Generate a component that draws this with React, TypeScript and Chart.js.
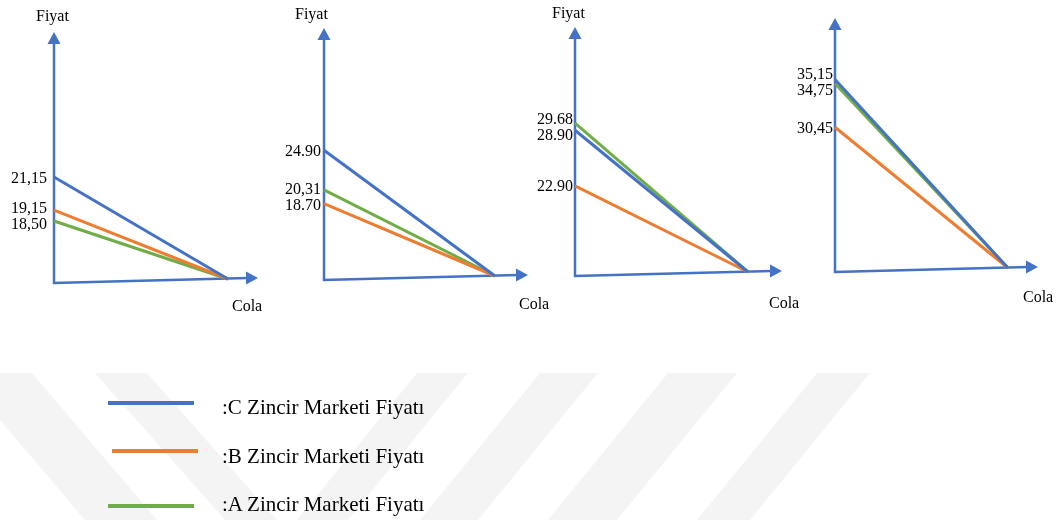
import React, { useEffect, useRef } from "react";
import { Chart, registerables } from "chart.js";

Chart.register(...registerables);

// ---------- data ----------
const seriesNames = [":C Zincir Marketi Fiyatı", ":B Zincir Marketi Fiyatı", ":A Zincir Marketi Fiyatı"];
const cPrices = [21.15, 24.9, 28.9, 35.15];
const bPrices = [19.15, 18.7, 22.9, 30.45];
const aPrices = [18.5, 20.31, 29.68, 34.75];
const cLabels = ["21,15", "24.90", "28.90", "35,15"];
const bLabels = ["19,15", "18.70", "22.90", "30,45"];
const aLabels = ["18,50", "20,31", "29.68", "34,75"];
const yAxisTitles = ["Fiyat", "Fiyat", "Fiyat", ""];
const xAxisTitles = ["Cola", "Cola", "Cola", "Cola"];

const seriesValues = [cPrices, bPrices, aPrices];
const seriesLabels = [cLabels, bLabels, aLabels];
const seriesColors = ["#4472C4", "#ED7D31", "#70AD47"];
const AXIS_COLOR = "#4472C4";
const FONT = '"Liberation Serif", "Times New Roman", serif';

// ---------- layout (page pixel positions, styling only) ----------
const panelLayout = [
  { cl: 0, cw: 270, axisX: 54, tipY: 32, endY: 279, tipX: 258, endX: 228, yMin: 15.0, yMax: 29.9, gap: 7, fx: 36, fy: 15, cx: 232, cy: 305 },
  { cl: 268, cw: 284, axisX: 324, tipY: 28, endY: 276, tipX: 528, endX: 495, yMin: 10.3, yMax: 39.1, gap: 3, fx: 295, fy: 13, cx: 519, cy: 303 },
  { cl: 528, cw: 277, axisX: 575, tipY: 27, endY: 272, tipX: 782, endX: 748, yMin: 13.6, yMax: 40.05, gap: 2, fx: 552, fy: 12, cx: 769, cy: 302 },
  { cl: 790, cw: 272, axisX: 835, tipY: 18, endY: 268, tipX: 1038, endX: 1008, yMin: 16.6, yMax: 41.2, gap: 2, fx: 0, fy: 0, cx: 1023, cy: 296 },
];
const CANVAS_H = 320;

const legendRows = [
  { sl: 108, sr: 194, sy: 403, ty: 407 },
  { sl: 112, sr: 198, sy: 451, ty: 456 },
  { sl: 108, sr: 194, sy: 506, ty: 504 },
];

const arrowAxesPlugin = {
  id: "arrowAxes",
  beforeDatasetsDraw(chart: any) {
    const { ctx, chartArea: ca } = chart;
    const x0 = ca.left;
    const yLeft = ca.bottom + 4;
    const yRight = ca.bottom - 1;
    ctx.save();
    ctx.strokeStyle = AXIS_COLOR;
    ctx.fillStyle = AXIS_COLOR;
    ctx.lineWidth = 2.5;
    ctx.lineCap = "butt";
    // y axis
    ctx.beginPath();
    ctx.moveTo(x0, yLeft + 1);
    ctx.lineTo(x0, ca.top + 10);
    ctx.stroke();
    ctx.beginPath();
    ctx.moveTo(x0, ca.top);
    ctx.lineTo(x0 - 6.5, ca.top + 12);
    ctx.lineTo(x0 + 6.5, ca.top + 12);
    ctx.closePath();
    ctx.fill();
    // x axis
    ctx.beginPath();
    ctx.moveTo(x0 - 1, yLeft);
    ctx.lineTo(ca.right - 10, yRight);
    ctx.stroke();
    ctx.beginPath();
    ctx.moveTo(ca.right, yRight);
    ctx.lineTo(ca.right - 12, yRight - 6.5);
    ctx.lineTo(ca.right - 12, yRight + 6.5);
    ctx.closePath();
    ctx.fill();
    ctx.restore();
  },
  afterDraw(chart: any, _args: any, opts: any) {
    const i = opts.panel;
    const L = panelLayout[i];
    const { ctx, chartArea: ca } = chart;
    const yScale = chart.scales.y;
    ctx.save();
    ctx.fillStyle = "#000";
    ctx.font = `16px ${FONT}`;
    ctx.textBaseline = "alphabetic";
    // price labels with simple de-overlap
    const items = seriesValues.map((vals, k) => ({
      y: yScale.getPixelForValue(vals[i]),
      text: seriesLabels[k][i],
    }));
    items.sort((a, b) => a.y - b.y);
    const minGap = 16;
    for (let it = 0; it < 20; it++) {
      for (let j = 1; j < items.length; j++) {
        const d = items[j].y - items[j - 1].y;
        if (d < minGap) {
          const push = (minGap - d) / 2;
          items[j].y += push;
          items[j - 1].y -= push;
        }
      }
    }
    ctx.textAlign = "right";
    items.forEach((o) => ctx.fillText(o.text, ca.left - L.gap, o.y + 5.5));
    // axis titles
    ctx.textAlign = "left";
    if (yAxisTitles[i]) ctx.fillText(yAxisTitles[i], L.fx - L.cl, L.fy + 5.5);
    ctx.fillText(xAxisTitles[i], L.cx - L.cl, L.cy + 5.5);
    ctx.restore();
  },
};

function buildConfig(i: number): any {
  const L = panelLayout[i];
  const xMax = (L.tipX - L.axisX) / (L.endX - L.axisX);
  return {
    type: "line",
    data: {
      datasets: seriesValues.map((vals, k) => ({
        label: seriesNames[k],
        data: [
          { x: 0, y: vals[i] },
          { x: 1, y: L.yMin },
        ],
        borderColor: seriesColors[k],
        backgroundColor: seriesColors[k],
        borderWidth: 3,
        pointRadius: 0,
        fill: false,
        tension: 0,
        clip: false,
      })),
    },
    options: {
      responsive: false,
      maintainAspectRatio: false,
      animation: false,
      events: [],
      layout: {
        padding: {
          left: L.axisX - L.cl,
          top: L.tipY,
          right: L.cl + L.cw - L.tipX,
          bottom: CANVAS_H - L.endY,
        },
      },
      scales: {
        x: { type: "linear", min: 0, max: xMax, display: false },
        y: { type: "linear", min: L.yMin, max: L.yMax, display: false },
      },
      plugins: {
        legend: { display: false },
        tooltip: { enabled: false },
        title: { display: false },
        arrowAxes: { panel: i },
      },
    },
    plugins: [arrowAxesPlugin],
  };
}

function drawWatermark(canvas: HTMLCanvasElement) {
  const g = canvas.getContext("2d");
  if (!g) return;
  g.clearRect(0, 0, canvas.width, canvas.height);
  g.fillStyle = "#f4f4f4";
  const top = 373;
  const bot = 520;
  const stripes: [number, number, number][] = [
    [-40, 32, 125],
    [95, 147, 130],
    [417, 468, -120],
    [540, 598, -120],
    [668, 737, -120],
    [817, 870, -120],
  ];
  stripes.forEach(([a, b, s]) => {
    g.beginPath();
    g.moveTo(a, top);
    g.lineTo(b, top);
    g.lineTo(b + s, bot);
    g.lineTo(a + s, bot);
    g.closePath();
    g.fill();
  });
}

export default function App() {
  const r0 = useRef<HTMLCanvasElement>(null);
  const r1 = useRef<HTMLCanvasElement>(null);
  const r2 = useRef<HTMLCanvasElement>(null);
  const r3 = useRef<HTMLCanvasElement>(null);
  const bgRef = useRef<HTMLCanvasElement>(null);
  const refs = [r0, r1, r2, r3];

  useEffect(() => {
    if (bgRef.current) drawWatermark(bgRef.current);
    const charts = refs.map((r, i) => new Chart(r.current as HTMLCanvasElement, buildConfig(i)));
    return () => charts.forEach((c) => c.destroy());
  }, []);

  return (
    <div
      style={{
        position: "fixed",
        left: 0,
        top: 0,
        width: 1062,
        height: 520,
        background: "#ffffff",
        overflow: "hidden",
      }}
    >
      <canvas ref={bgRef} width={1062} height={520} style={{ position: "absolute", left: 0, top: 0 }} />
      {panelLayout.map((L, i) => (
        <canvas
          key={i}
          ref={refs[i]}
          width={L.cw}
          height={CANVAS_H}
          style={{ position: "absolute", left: L.cl, top: 0, width: L.cw, height: CANVAS_H }}
        />
      ))}
      {legendRows.map((row, k) => (
        <React.Fragment key={k}>
          <div
            style={{
              position: "absolute",
              left: row.sl,
              top: row.sy - 2,
              width: row.sr - row.sl,
              height: 4,
              background: seriesColors[k],
            }}
          />
          <div
            style={{
              position: "absolute",
              left: 222,
              top: row.ty - 12,
              height: 24,
              lineHeight: "24px",
              fontFamily: FONT,
              fontSize: 21,
              color: "#000",
              whiteSpace: "nowrap",
            }}
          >
            {seriesNames[k]}
          </div>
        </React.Fragment>
      ))}
    </div>
  );
}
